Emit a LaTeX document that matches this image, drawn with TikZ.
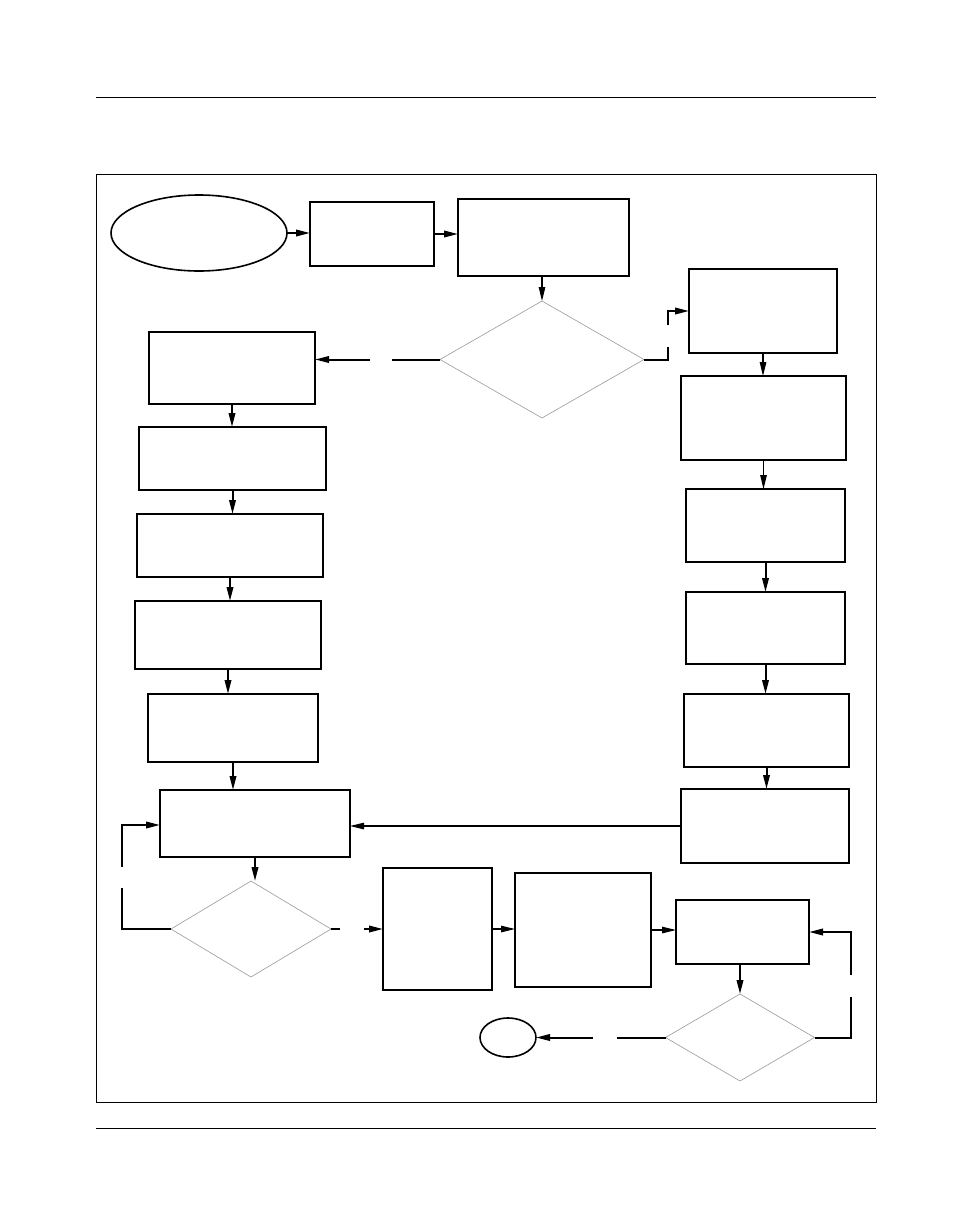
\documentclass[tikz,border=0pt]{standalone}
\usetikzlibrary{shapes.geometric,arrows.meta}
\begin{document}
\begin{tikzpicture}[x=1pt,y=-1pt,
  thickbox/.style={draw,line width=2pt,rectangle,inner sep=0pt,outer sep=0pt},
  thinbox/.style={draw,line width=1.3pt,rectangle,inner sep=0pt,outer sep=0pt},
  decision/.style={draw=gray!80,line width=0.6pt,diamond,inner sep=0pt,outer sep=0pt},
  terminal/.style={draw,line width=1.6pt,ellipse,inner sep=0pt,outer sep=0pt},
  arr/.style={line width=2pt,-{Triangle[length=14pt,width=6.5pt]}},
  tarr/.style={line width=1.2pt,-{Triangle[length=14pt,width=6.5pt]}},
  ln/.style={line width=2pt},
  rule/.style={line width=1pt}]
\useasboundingbox (0,0) rectangle (972,1224);
% page rules and frame
\coordinate (r1a) at (96,97); \coordinate (r1b) at (876,97);
\coordinate (r2a) at (96,1128); \coordinate (r2b) at (876,1128);
\draw[rule] (r1a) -- (r1b);
\draw[rule] (r2a) -- (r2b);
\node[draw,line width=1pt,rectangle,inner sep=0pt,minimum width=780,minimum height=928] (frame) at (486,638) {};
% nodes
\node[terminal,minimum width=176,minimum height=76] (S) at (199,233) {};
\node[thickbox,minimum width=124,minimum height=64] (A) at (372,234) {};
\node[thickbox,minimum width=171,minimum height=77] (B) at (543.5,237.5) {};
\node[decision,minimum width=204,minimum height=117] (D1) at (542,359.5) {};
\node[thickbox,minimum width=166,minimum height=72] (C) at (232,368) {};
\node[thickbox,minimum width=148,minimum height=84] (D) at (763,311) {};
\node[thinbox,minimum width=165,minimum height=84] (E) at (763.5,418) {};
\node[thickbox,minimum width=159,minimum height=73] (F) at (765.5,525.5) {};
\node[thickbox,minimum width=159,minimum height=72] (G) at (765.5,628) {};
\node[thinbox,minimum width=165,minimum height=73] (H) at (766.5,730.5) {};
\node[thinbox,minimum width=168,minimum height=74] (I) at (765,826) {};
\node[thickbox,minimum width=187,minimum height=63] (K) at (232.5,458.5) {};
\node[thickbox,minimum width=186,minimum height=63] (L) at (230,545.5) {};
\node[thinbox,minimum width=186,minimum height=68] (M) at (228,635) {};
\node[thickbox,minimum width=170,minimum height=68] (N) at (233,728) {};
\node[thickbox,minimum width=190,minimum height=67] (J) at (255,823.5) {};
\node[decision,minimum width=160,minimum height=96] (D2) at (251,929) {};
\node[thinbox,minimum width=109,minimum height=122] (O) at (437.5,929) {};
\node[thickbox,minimum width=136,minimum height=114] (P) at (583,930) {};
\node[thickbox,minimum width=133,minimum height=64] (Q) at (742.5,932) {};
\node[decision,minimum width=149,minimum height=87] (D3) at (740,1037.5) {};
\node[terminal,minimum width=56,minimum height=39] (T) at (508,1037.5) {};
% gap coordinates
\coordinate (g1a) at (392,359.5); \coordinate (g1b) at (370,359.5);
\coordinate (g2a) at (668,359.5); \coordinate (g2b) at (668,347);
\coordinate (g2c) at (668,325); \coordinate (g2d) at (668,311);
\coordinate (g3a) at (122,929); \coordinate (g3b) at (122,888);
\coordinate (g3c) at (122,867); \coordinate (g3d) at (122,825);
\coordinate (g4a) at (340,929); \coordinate (g4b) at (364,929);
\coordinate (g5a) at (851,1037.5); \coordinate (g5b) at (851,997);
\coordinate (g5c) at (851,975); \coordinate (g5d) at (851,932);
\coordinate (g6a) at (617,1037.5); \coordinate (g6b) at (593,1037.5);
% connectors
\draw[arr] (S.east) -- (S.east -| A.west);
\draw[arr] (A.east) -- (A.east -| B.west);
\draw[tarr] (D1.north |- B.south) -- (D1.north);
\draw[ln] (D1.west) -- (g1a);
\draw[arr] (g1b) -- (g1b -| C.east);
\draw[ln] (D1.east) -- (g2a) -- (g2b);
\draw[arr] (g2c) -- (g2d) -- (g2d -| D.west);
\draw[tarr] (D.south) -- (D.south |- E.north);
\draw[tarr] (E.south) -- (E.south |- F.north);
\draw[arr] (F.south) -- (F.south |- G.north);
\draw[arr] (G.south) -- (G.south |- H.north);
\draw[arr] (H.south) -- (H.south |- I.north);
\draw[tarr] (I.west) -- (I.west -| J.east);
\draw[arr] (C.south) -- (C.south |- K.north);
\draw[arr] (K.south) -- (K.south |- L.north);
\draw[arr] (L.south) -- (L.south |- M.north);
\draw[arr] (M.south) -- (M.south |- N.north);
\draw[arr] (N.south) -- (N.south |- J.north);
\draw[arr] (J.south) -- (J.south |- D2.north);
\draw[ln] (D2.west) -- (g3a) -- (g3b);
\draw[arr] (g3c) -- (g3d) -- (g3d -| J.west);
\draw[ln] (D2.east) -- (g4a);
\draw[arr] (g4b) -- (g4b -| O.west);
\draw[tarr] (O.east) -- (O.east -| P.west);
\draw[tarr] (P.east) -- (P.east -| Q.west);
\draw[arr] (D3.north |- Q.south) -- (D3.north);
\draw[ln] (D3.east) -- (g5a) -- (g5b);
\draw[arr] (g5c) -- (g5d) -- (g5d -| Q.east);
\draw[ln] (D3.west) -- (g6a);
\draw[arr] (g6b) -- (T.east);
\end{tikzpicture}
\end{document}
